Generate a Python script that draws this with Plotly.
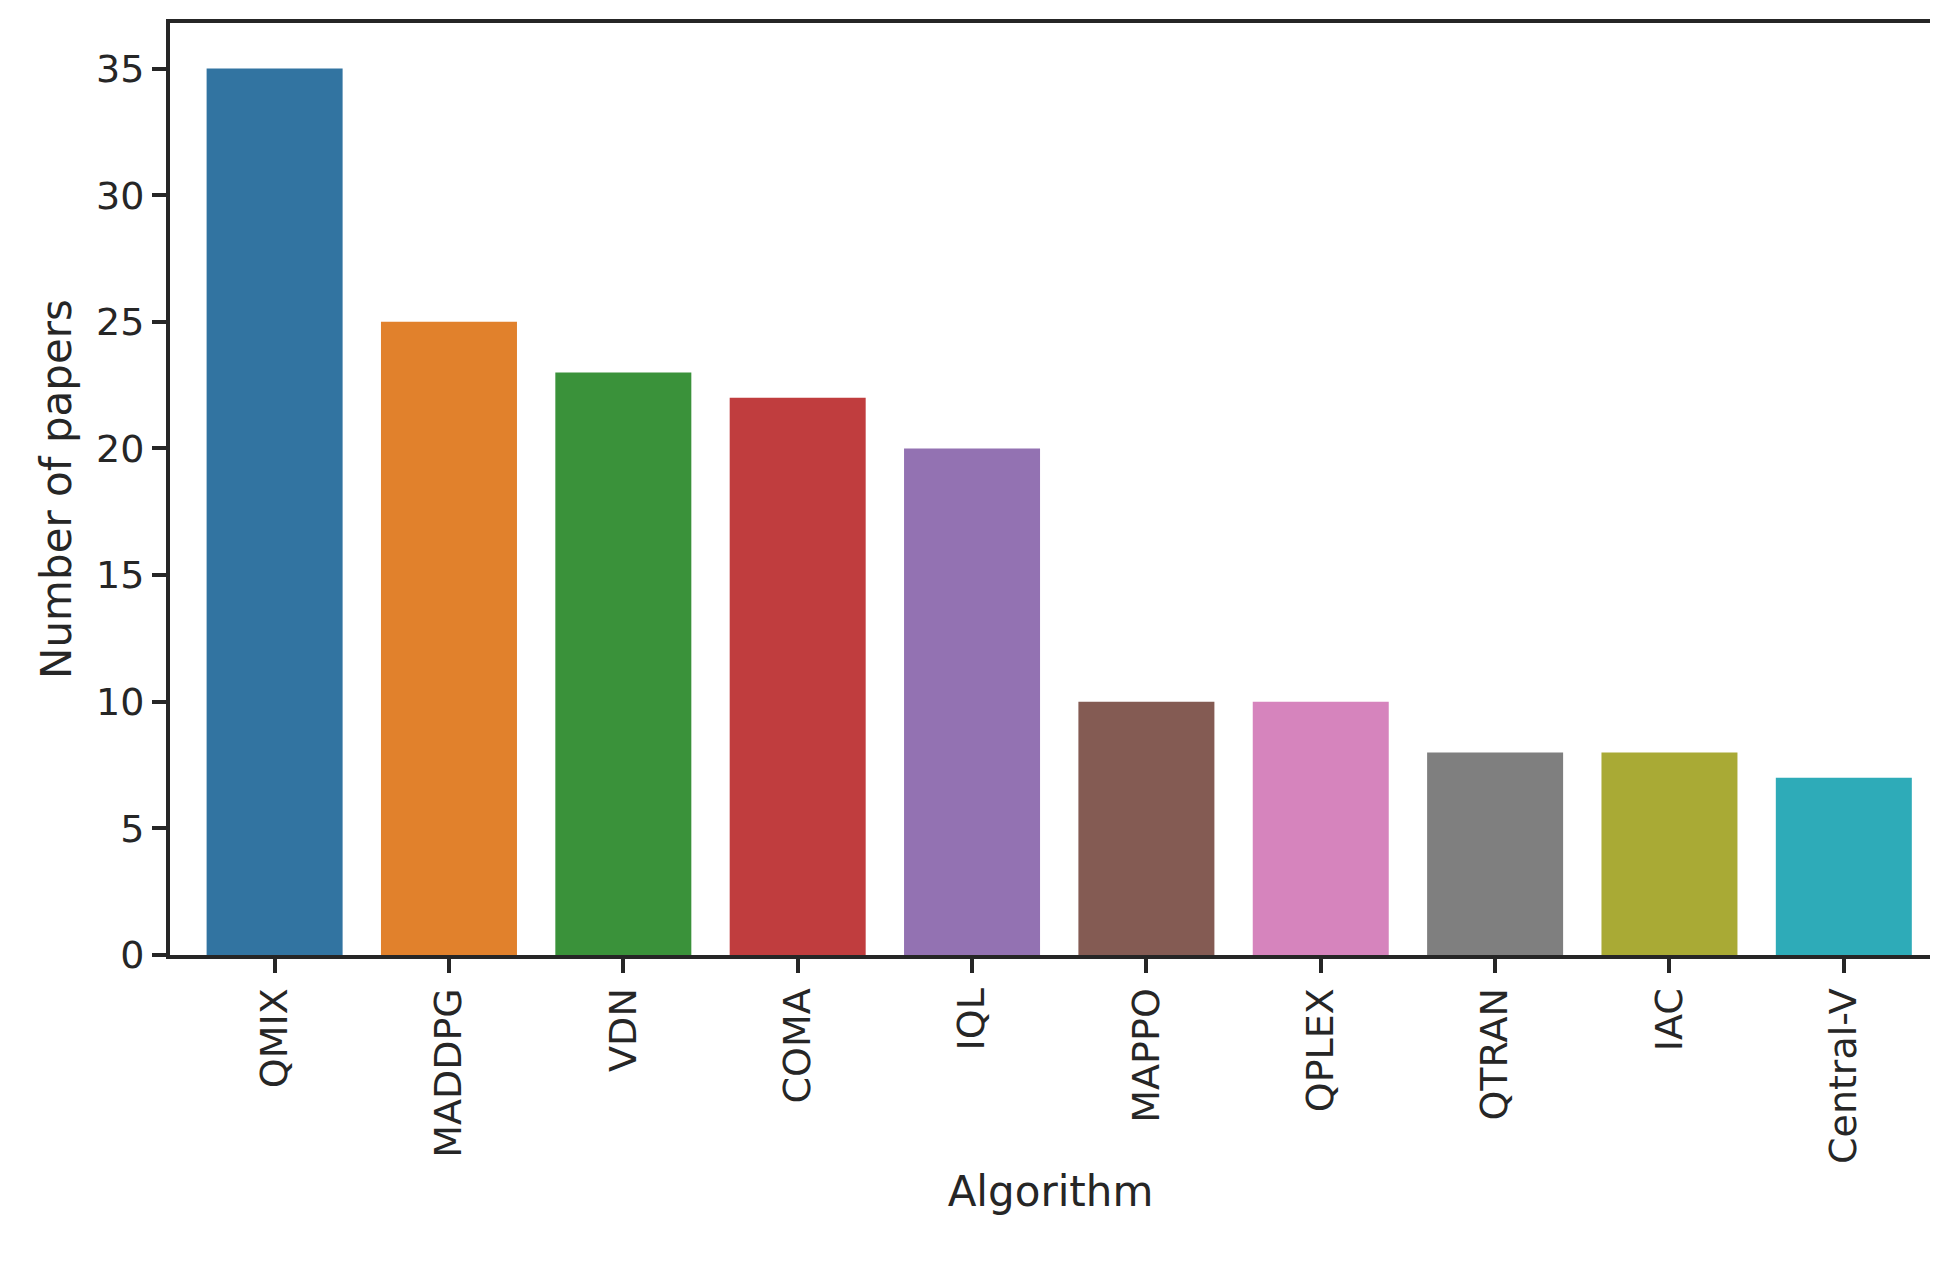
import plotly.graph_objects as go

algorithms = ["QMIX", "MADDPG", "VDN", "COMA", "IQL", "MAPPO", "QPLEX", "QTRAN", "IAC", "Central-V"]
papers = [35, 25, 23, 22, 20, 10, 10, 8, 8, 7]
colors = ["#3274a1", "#e1812c", "#3a923a", "#c03d3e", "#9372b2",
          "#845b53", "#d684bd", "#7f7f7f", "#a9aa35", "#2eabb8"]

fig = go.Figure(go.Bar(x=algorithms, y=papers, marker_color=colors,
                       marker_line_width=0, width=0.78))

axis_common = dict(showline=True, linecolor="#262626", linewidth=4, mirror=True,
                   ticks="outside", ticklen=14, tickwidth=4, tickcolor="#262626",
                   showgrid=False, zeroline=False,
                   tickfont=dict(size=38, color="#262626"))

fig.update_xaxes(title=dict(text="Algorithm", font=dict(size=42, color="#262626")),
                 tickangle=-90, range=[-0.6, 9.5], **axis_common)
fig.update_yaxes(title=dict(text="Number of papers", font=dict(size=42, color="#262626"), standoff=12),
                 range=[0, 36.8], tickvals=[0, 5, 10, 15, 20, 25, 30, 35], **axis_common)

fig.update_layout(width=1938, height=1266, plot_bgcolor="white", paper_bgcolor="white",
                  font=dict(family="DejaVu Sans"),
                  margin=dict(l=162, r=15, t=15, b=319), showlegend=False)

fig.write_html("out.html")
